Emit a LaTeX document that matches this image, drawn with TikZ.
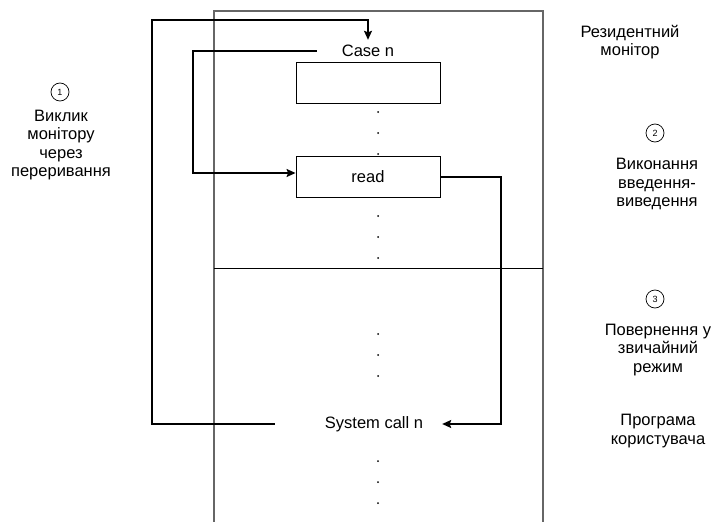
\documentclass[tikz,border=0pt]{standalone}
\usepackage{fontspec}
\setmainfont{Liberation Sans}
\usetikzlibrary{arrows.meta, positioning}

\begin{document}
\begin{tikzpicture}[
    x=1pt, y=-1pt,
    every node/.style={font=\fontsize{16.5}{18.5}\selectfont},
    slot/.style={draw, line width=0.9pt, minimum width=144pt, minimum height=41pt, inner sep=0pt},
    lbl/.style={inner sep=0pt, minimum height=22pt},
    note/.style={align=center, inner sep=0pt},
    num/.style={circle, draw, line width=0.7pt, minimum size=18pt, inner sep=0pt, font=\fontsize{9}{10}\selectfont},
    frame/.style={draw=black!60, line width=1.1pt},
    arrow/.style={-{Stealth[length=9pt, width=8pt, inset=1.5pt]}, line width=1.4pt},
]
    \useasboundingbox (0,0) rectangle (721,522);

    % Memory column (runs past the lower edge)
    \draw[frame] (214,530) -- (214,11) -- (543,11) -- (543,530);
    \draw[line width=0.9pt] (214,268) -- (543,268);

    \node[lbl, minimum width=102pt] (casen) at (368,51) {Case n};
    \node[slot] (first) at (368,82.5) {};
    \node[slot] (read) at (368,177) {read};
    \node[lbl, minimum width=198pt] (syscall) at (374,424) {System call n};

    % Dots between entries
    \foreach \y in {112,133,154, 216,237,258, 334,355,376, 461,482,503}
        \fill (378,\y) circle (1);

    % Control flow
    \draw[arrow] (syscall.west) -| (152,20) -| (casen.north);
    \draw[arrow] (casen.west) -- (193,51) |- ([yshift=4pt]read.west);
    \draw[arrow] (read.east) -- (501,177) |- ([xshift=-31pt]syscall.east);

    % Step labels
    \node[num] (n1) at (60,92) {1};
    \node[note] (call) at (61,145) {Виклик\\монітору\\через\\переривання};

    \node[note] (resmon) at (630,42) {Резидентний\\монітор};
    \node[num] (n2) at (655,133) {2};
    \node[note] (io) at (657,184) {Виконання\\введення-\\виведення};
    \node[num] (n3) at (655,299) {3};
    \node[note] (back) at (658,350) {Повернення у\\звичайний\\режим};
    \node[note] (user) at (658,431) {Програма\\користувача};
\end{tikzpicture}
\end{document}
